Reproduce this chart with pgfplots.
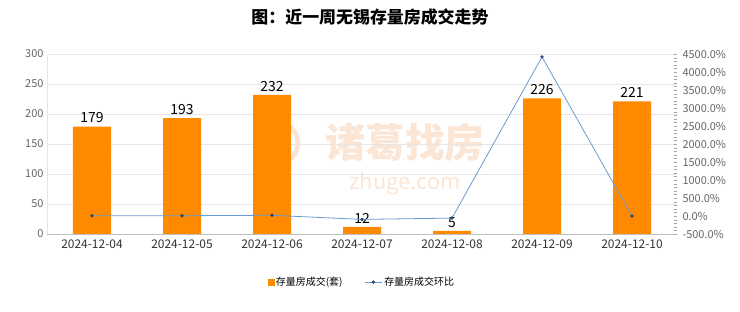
\documentclass[border=0pt]{standalone}
\usepackage{pgfplots}
\pgfplotsset{compat=1.18}
\usepackage{fontspec}
\setmainfont{Noto Sans CJK SC}
\definecolor{baror}{HTML}{FF8A00}
\definecolor{lineblue}{HTML}{6A9BD0}
\definecolor{markblue}{HTML}{2C4A6E}
\definecolor{gridc}{HTML}{E6E6E6}
\definecolor{tickc}{HTML}{666666}
\definecolor{wm}{HTML}{FBE6D6}
\begin{document}
\begin{tikzpicture}
\path[use as bounding box] (0bp,0bp) rectangle (740bp,312bp);
\fill[white] (0bp,0bp) rectangle (740bp,312bp);
\node[font=\fontsize{17}{17}\selectfont\bfseries] at (370bp,295bp) {图：近一周无锡存量房成交走势};
% watermark
\node[text=wm,font=\fontsize{40}{40}\selectfont\bfseries] at (405bp,169bp) {诸葛找房};
\node[text=wm,font=\fontsize{22}{22}\selectfont] at (405bp,128bp) {zhuge.com};
\draw[wm,line width=5bp] (278bp,169bp) circle (20bp);
\begin{axis}[
  at={(47bp,78bp)}, anchor=south west,
  scale only axis, width=630bp, height=180bp,
  xmin=-0.5, xmax=6.5, ymin=0, ymax=300,
  xtick={0,...,6},
  xticklabels={2024-12-04,2024-12-05,2024-12-06,2024-12-07,2024-12-08,2024-12-09,2024-12-10},
  ytick={0,50,...,300},
  /pgf/number format/assume math mode=true,
  yticklabel style={text=tickc,font=\fontsize{11}{11}\selectfont},
  xticklabel style={text=black!80,font=\fontsize{12}{12}\selectfont,yshift=-2bp},
  ymajorgrids, grid style={gridc},
  axis y line*=left, axis x line*=bottom,
  y axis line style={gridc}, x axis line style={black!25},
  major tick length=0pt,
  ybar, bar width=38bp,
  nodes near coords,
  every node near coord/.append style={font=\fontsize{14}{14}\selectfont,text=black},
  clip=false,
]
\addplot[fill=baror,draw=none] coordinates {(0,179) (1,193) (2,232) (3,12) (4,5) (5,226) (6,221)};
\end{axis}
\begin{axis}[
  at={(47bp,78bp)}, anchor=south west,
  scale only axis, width=630bp, height=180bp,
  xmin=-0.5, xmax=6.5, ymin=-500, ymax=4500,
  axis y line*=right, axis x line=none,
  ytick={-500,0,...,4500},
  yticklabels={-500.0\%,0.0\%,500.0\%,1000.0\%,1500.0\%,2000.0\%,2500.0\%,3000.0\%,3500.0\%,4000.0\%,4500.0\%},
  yticklabel style={text=tickc,font=\fontsize{11}{11}\selectfont,anchor=west,xshift=2bp},
  minor y tick num=4,
  y axis line style={draw=none},
  major tick length=3bp, minor tick length=3bp,
  tick style={black!35},
  legend style={at={(0.5,-0.267)},anchor=center,draw=none,font=\fontsize{10}{10}\selectfont,
    legend columns=2, /tikz/every even column/.append style={column sep=20bp}},
  legend cell align=left,
]
\addlegendimage{only marks,mark=square*,mark size=3bp,color=baror}
\addlegendentry{存量房成交(套)}
\addplot[lineblue,line width=0.8bp,mark=*,mark size=1.3bp,mark options={fill=markblue,draw=markblue}]
  coordinates {(0,5) (1,7.8) (2,20.2) (3,-94.8) (4,-58.3) (5,4420) (6,-2.2)};
\addlegendentry{存量房成交环比}
\end{axis}
\end{tikzpicture}
\end{document}
